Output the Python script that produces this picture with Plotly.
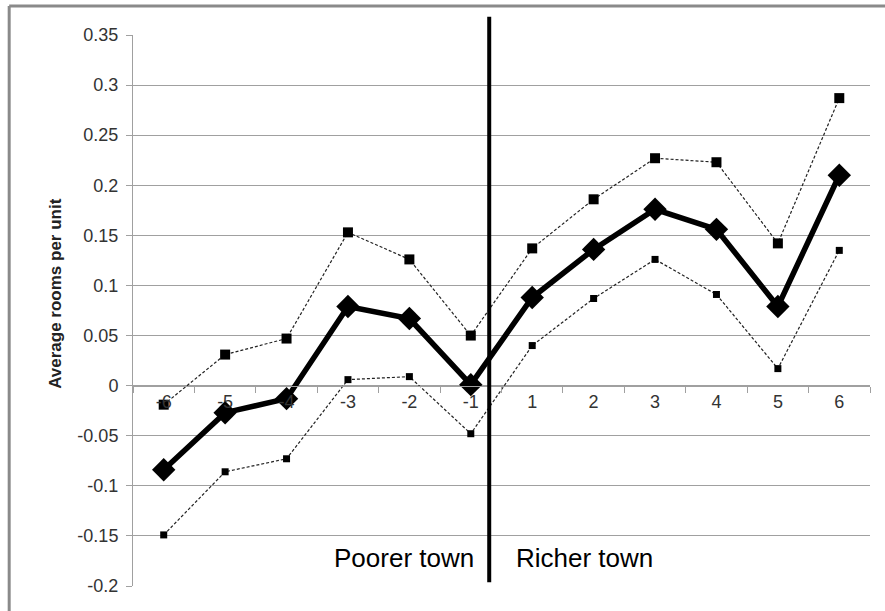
import plotly.graph_objects as go

# Distance from the town boundary (in towns), negative = poorer side
categories = ["-6", "-5", "-4", "-3", "-2", "-1", "1", "2", "3", "4", "5", "6"]

# Point estimate of average rooms per unit
estimate = [-0.084, -0.027, -0.013, 0.079, 0.067, 0.001,
            0.088, 0.136, 0.176, 0.156, 0.079, 0.210]
# Upper and lower confidence bounds
upper_bound = [-0.019, 0.031, 0.047, 0.153, 0.126, 0.050,
               0.137, 0.186, 0.227, 0.223, 0.142, 0.287]
lower_bound = [-0.149, -0.086, -0.073, 0.006, 0.009, -0.048,
               0.040, 0.087, 0.126, 0.091, 0.017, 0.135]

y_ticks = [-0.2, -0.15, -0.1, -0.05, 0, 0.05, 0.1, 0.15, 0.2, 0.25, 0.3, 0.35]
y_tick_text = ["-0.2", "-0.15", "-0.1", "-0.05", "0", "0.05", "0.1",
               "0.15", "0.2", "0.25", "0.3", "0.35"]

FONT = "Liberation Sans, Arial, sans-serif"
GRID = "#a0a0a0"

fig = go.Figure()

fig.add_trace(go.Scatter(
    x=categories, y=lower_bound, mode="lines+markers",
    line=dict(color="#222222", width=1.2, dash="3px,2px"),
    marker=dict(symbol="square", size=7, color="black"),
    showlegend=False,
))
fig.add_trace(go.Scatter(
    x=categories, y=upper_bound, mode="lines+markers",
    line=dict(color="#222222", width=1.2, dash="3px,2px"),
    marker=dict(symbol="square", size=10, color="black"),
    showlegend=False,
))
fig.add_trace(go.Scatter(
    x=categories, y=estimate, mode="lines+markers",
    line=dict(color="black", width=5.5),
    marker=dict(symbol="diamond", size=18, color="black"),
    showlegend=False,
))

y_min, y_max = -0.2, 0.35

fig.update_layout(
    width=885, height=611,
    margin=dict(l=133, r=15, t=35, b=25),
    paper_bgcolor="white", plot_bgcolor="white",
    font=dict(family=FONT, size=18, color="#333333"),
    xaxis=dict(
        type="category", range=[-0.5, 11.5],
        anchor="free", position=(0 - y_min) / (y_max - y_min),
        showline=True, linecolor=GRID, linewidth=1,
        ticks="outside", tickson="boundaries", ticklen=6, tickcolor=GRID,
        showgrid=False, zeroline=False,
        tickfont=dict(size=18, color="#333333"),
    ),
    yaxis=dict(
        range=[y_min, y_max], tickvals=y_ticks, ticktext=y_tick_text,
        showline=True, linecolor=GRID, linewidth=1,
        ticks="outside", ticklen=6, tickcolor=GRID,
        ticklabelstandoff=4,
        showgrid=True, gridcolor=GRID, gridwidth=1,
        zeroline=False,
        tickfont=dict(size=18, color="#333333"),
    ),
)

# Boundary between the poorer and the richer town
fig.add_shape(type="line", xref="x", yref="paper",
              x0=5.3, x1=5.3, y0=0.007, y1=1.033,
              line=dict(color="black", width=4))

# Chart frame (top and left edges)
fig.add_shape(type="line", xref="paper", yref="paper",
              x0=-0.168, x1=1.1, y0=1.0526, y1=1.0526,
              line=dict(color="#8a8a8a", width=3))
fig.add_shape(type="line", xref="paper", yref="paper",
              x0=-0.168, x1=-0.168, y0=-0.1, y1=1.0526,
              line=dict(color="#8a8a8a", width=3))

fig.add_annotation(text="Poorer town", xref="paper", yref="paper",
                   x=0.368, y=0.051, xanchor="center", yanchor="middle",
                   showarrow=False,
                   font=dict(size=26, color="black", family=FONT))
fig.add_annotation(text="Richer town", xref="paper", yref="paper",
                   x=0.612, y=0.051, xanchor="center", yanchor="middle",
                   showarrow=False,
                   font=dict(size=26, color="black", family=FONT))
fig.add_annotation(text="<b>Average rooms per unit</b>", xref="paper", yref="paper",
                   x=-0.1045, y=0.532, xanchor="center", yanchor="middle",
                   textangle=-90, showarrow=False,
                   font=dict(size=17, color="#222222", family=FONT))

fig.write_html("out.html")
